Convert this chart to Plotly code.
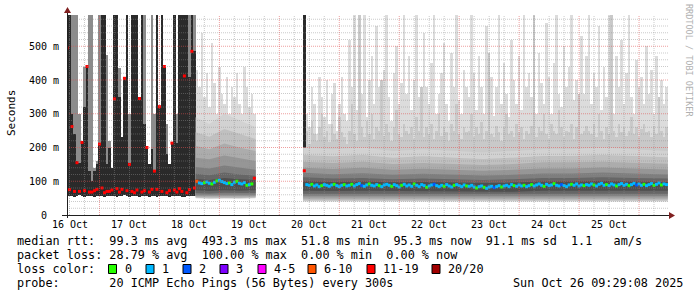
import pandas as pd
import plotly.graph_objects as go

# ------------------------------------------------------------------ data
# Period A: heavy packet loss, hourly bins starting 15 Oct 23:00
a_start = "2025-10-15 23:00"
a_lo = [56, 55, 57, 54, 56, 58, 55, 54, 57, 56, 55, 53, 56, 57, 55, 54, 56, 55, 57, 56,
        54, 55, 56, 58, 55, 54, 56, 57, 55, 53, 56, 55, 57, 54, 56, 55, 54, 56, 57, 55,
        56, 54, 55, 57, 56, 55, 54, 52, 56, 55, 57, 56]
a_dark = [600, 600, 300, 240, 160, 155, 220, 320, 440, 130, 100, 130, 150, 210, 600, 600,
          150, 200, 140, 600, 600, 350, 230, 410, 600, 150, 600, 600, 600, 350, 600, 270,
          200, 150, 195, 130, 600, 320, 600, 440, 180, 150, 210, 600, 213, 600, 600, 600,
          600, 410, 600, 485]
a_grey = [600, 600, 600, 600, 600, 300, 220, 440, 440, 600, 600, 140, 160, 600, 600, 600,
          474, 220, 140, 600, 600, 435, 230, 410, 600, 300, 600, 600, 600, 350, 600, 600,
          200, 150, 600, 300, 600, 320, 600, 440, 270, 150, 210, 600, 300, 600, 600, 600,
          600, 600, 600, 600]
a_med = [495, 75, 262, 70, 155, 70, 215, 72, 440, 68, 68, 72, 76, 210, 80, 66, 70, 70, 74, 344,
         78, 68, 76, 405, 72, 150, 70, 66, 74, 345, 68, 72, 200, 68, 76, 130, 76, 321, 70, 440,
         66, 72, 213, 74, 68, 78, 70, 412, 66, 75, 485, 80]
a_loss = [16, 14, 15, 17, 13, 15, 16, 14, 18, 15, 14, 16, 15, 13, 17, 15, 16, 14, 15, 17,
          14, 16, 15, 13, 16, 15, 14, 17, 15, 16, 14, 15, 13, 16, 15, 17, 14, 15, 16, 13,
          15, 14, 16, 17, 15, 14, 16, 15, 13, 15, 14, 12]

# Period B: normal, hourly bins from 18 Oct 03:00
b_start = "2025-10-18 03:00"
b_med = [100, 95, 93, 96, 98, 94, 92, 97, 101, 103, 99, 96, 93, 95, 90, 97, 100, 94, 92, 96,
         88, 90, 92, 109]
b_loss = [7, 1, 1, 0, 1, 1, 0, 1, 0, 1, 1, 1, 1, 0, 1, 1, 0, 1, 1, 1, 0, 1, 0, 12]
b_hi = [430, 380, 540, 350, 420, 320, 510, 390, 300, 440, 360, 330, 410, 300, 380, 350,
        420, 330, 300, 440, 380, 320, 360, 300]
b_band_t = ["2025-10-18 02:30", "2025-10-18 08:00", "2025-10-18 14:00",
            "2025-10-18 20:00", "2025-10-19 02:30"]
b_bands = [  # (lower, upper) smoke envelopes, outer to inner
    ([50, 48, 49, 48, 50], [290, 270, 300, 280, 260]),
    ([51, 50, 51, 50, 51], [245, 232, 255, 240, 225]),
    ([53, 52, 53, 52, 53], [205, 195, 212, 200, 190]),
    ([56, 55, 57, 56, 56], [170, 165, 176, 168, 160]),
    ([60, 59, 61, 60, 60], [142, 138, 147, 140, 134]),
    ([65, 64, 66, 65, 65], [122, 118, 126, 120, 116]),
    ([73, 71, 73, 72, 73], [107, 104, 110, 106, 104]),
]

# Period C: normal, hourly bins from 19 Oct 22:00
c_start = "2025-10-19 22:00"
c_med = [131,
         90, 88, 91, 86, 89, 84, 87, 90, 88, 85, 89, 91, 87, 84, 88, 90, 86,
         88, 91, 86, 90, 93, 87, 85, 89, 92, 88, 86, 90, 87, 84, 89, 91, 88, 85, 90, 87, 83, 88, 91, 86,
         89, 85, 92, 88, 84, 90, 87, 82, 86, 89, 91, 87, 84, 88, 85, 90, 86, 83, 88, 90, 87, 84, 89, 86,
         85, 88, 83, 80, 84, 86, 82, 79, 83, 85, 81, 84, 87, 83, 86, 88, 84, 90, 87, 85, 89, 86, 88, 84,
         87, 90, 86, 89, 92, 88, 85, 91, 87, 89, 93, 88, 86, 90, 87, 84, 89, 91, 88, 92, 86, 89, 87, 90,
         88, 92, 89, 86, 91, 94, 88, 90, 87, 92, 89, 86, 90, 93, 88, 91, 87, 90, 94, 89, 92, 88, 91, 87,
         90, 93, 88, 91, 95, 89, 92, 90]
c_loss = [12,
          1, 1, 0, 1, 1, 1, 0, 1, 1, 1, 1, 0, 1, 1, 1, 0, 1,
          1, 0, 1, 1, 1, 2, 1, 1, 0, 1, 1, 1, 0, 1, 1, 1, 1, 0, 1, 1, 1, 0, 1, 1,
          1, 1, 0, 1, 1, 1, 1, 0, 1, 1, 2, 1, 1, 1, 0, 1, 1, 1, 0, 1, 1, 1, 1, 0,
          1, 1, 1, 0, 1, 1, 0, 1, 1, 1, 2, 1, 1, 0, 1, 1, 1, 1, 0, 1, 1, 1, 0, 1,
          1, 0, 1, 1, 1, 1, 0, 1, 1, 1, 0, 1, 1, 2, 1, 1, 1, 0, 1, 1, 1, 1, 0, 1,
          1, 1, 0, 1, 1, 1, 1, 0, 1, 1, 1, 0, 1, 1, 1, 1, 0, 1, 1, 2, 1, 1, 0, 1,
          1, 1, 0, 1, 1, 0, 1, 1]
c_hi = [420, 300, 260, 380, 330, 240, 410, 350, 290, 400, 270, 360, 390, 250, 330, 410, 300, 280,
        520, 380, 600, 310, 450, 360, 600, 290, 400, 470, 330, 560, 380, 300, 430, 600, 350, 280, 420, 500, 330, 390, 600, 360,
        470, 310, 400, 600, 350, 290, 540, 380, 330, 450, 600, 300, 360, 420, 510, 330, 280, 480, 380, 600, 340, 300, 430, 380,
        350, 600, 420, 310, 470, 380, 300, 560, 340, 410, 292, 380, 600, 330, 450, 360, 290, 520, 400, 330, 470, 310, 600, 380,
        420, 350, 600, 300, 480, 390, 330, 570, 410, 300, 450, 600, 360, 320, 500, 380, 440, 600, 340, 400, 310, 530, 360, 470,
        600, 330, 420, 380, 560, 310, 440, 350, 600, 400, 300, 470, 380, 520, 330, 420, 600, 350, 300, 460, 380, 410, 330, 500,
        360, 430, 300, 470, 350, 400, 330, 380]
c_mid = [230, 250, 210, 280, 240, 220, 260, 300, 230, 250, 215, 270, 240, 225, 290, 245, 230, 210,
         250, 330, 240, 220, 600, 260, 230, 280, 240, 300, 225, 260, 250, 400, 235, 270, 245, 220, 260, 310, 240, 230, 270, 250,
         240, 260, 225, 290, 250, 380, 230, 260, 240, 270, 225, 250, 300, 235, 260, 245, 220, 270, 250, 330, 240, 225, 260, 245,
         250, 300, 230, 260, 240, 275, 225, 250, 480, 240, 230, 265, 245, 220, 260, 300, 240, 250, 230, 270, 245, 260, 225, 250,
         240, 265, 600, 230, 260, 250, 300, 240, 225, 270, 250, 240, 310, 260, 230, 250, 245, 270, 225, 260, 360, 240, 250, 265,
         250, 240, 270, 230, 300, 250, 225, 260, 240, 600, 250, 230, 270, 245, 260, 235, 250, 290, 240, 260, 230, 255, 270, 245,
         250, 230, 265, 240, 350, 250, 230, 260]
c_band_t = ["2025-10-19 21:30", "2025-10-20 09:30", "2025-10-20 21:30", "2025-10-21 09:30",
            "2025-10-21 21:30", "2025-10-22 09:30", "2025-10-22 21:30", "2025-10-23 09:30",
            "2025-10-23 21:30", "2025-10-24 09:30", "2025-10-24 21:30", "2025-10-25 09:30",
            "2025-10-25 21:30", "2025-10-25 23:30"]
c_bands = [
    ([40, 39, 40, 38, 39, 40, 39, 38, 40, 39, 40, 39, 40, 40],
     [200, 195, 200, 190, 195, 190, 185, 190, 195, 195, 200, 195, 190, 190]),
    ([43, 42, 43, 42, 43, 43, 42, 41, 43, 42, 43, 43, 43, 43],
     [178, 174, 178, 170, 174, 170, 166, 170, 175, 175, 178, 175, 171, 171]),
    ([47, 46, 47, 46, 47, 47, 46, 45, 47, 46, 47, 47, 47, 47],
     [158, 154, 158, 151, 154, 151, 148, 151, 156, 156, 158, 155, 152, 152]),
    ([52, 51, 52, 51, 52, 52, 51, 50, 52, 51, 52, 52, 52, 52],
     [140, 136, 140, 134, 137, 134, 131, 134, 138, 138, 141, 138, 135, 135]),
    ([57, 56, 57, 56, 57, 57, 56, 55, 57, 56, 57, 57, 57, 57],
     [125, 121, 124, 119, 122, 119, 117, 119, 123, 123, 126, 123, 120, 120]),
    ([63, 62, 63, 62, 63, 63, 62, 61, 63, 62, 63, 63, 63, 63],
     [112, 108, 110, 106, 108, 106, 104, 106, 110, 110, 112, 110, 108, 108]),
    ([72, 71, 72, 71, 72, 71, 70, 69, 72, 71, 72, 72, 72, 72],
     [100, 98, 99, 97, 98, 96, 95, 96, 99, 99, 101, 99, 98, 98]),
]
# first sample after the outage: heavy-loss smoke line
c_loss_bar_t = ["2025-10-19 22:00"]
c_loss_bar_lo = [131]
c_loss_bar_hi = [600]

day_ticks = pd.date_range("2025-10-16", "2025-10-25", freq="D")
day_labels = ["16 Oct", "17 Oct", "18 Oct", "19 Oct", "20 Oct",
              "21 Oct", "22 Oct", "23 Oct", "24 Oct", "25 Oct"]
y_ticks = [0, 100, 200, 300, 400, 500]
y_labels = ["0", "100 m", "200 m", "300 m", "400 m", "500 m"]

legend_rtt = "median rtt:  99.3 ms avg  493.3 ms max  51.8 ms min  95.3 ms now  91.1 ms sd  1.1   am/s"
legend_loss = "packet loss: 28.79 % avg  100.00 % max  0.00 % min  0.00 % now"
loss_names = ["0", "1", "2", "3", "4-5", "6-10", "11-19", "20/20"]
loss_cols = ["#26ff00", "#00b8ff", "#0059ff", "#7e00ff", "#ff00ff", "#ff5500", "#ff0000", "#a10000"]
loss_upper = [0, 1, 2, 3, 5, 10, 19, 20]
probe_text = "probe:       20 ICMP Echo Pings (56 Bytes) every 300s"
date_text = "Sun Oct 26 09:29:08 2025"

# ------------------------------------------------------------------ helpers
X_START, X_END = "2025-10-15 23:00", "2025-10-26 00:00"
Y_MAX = 592.6
L, T, PW, PH = 67, 15, 602, 200
MONO = "DejaVu Sans Mono"
HOUR = 3600 * 1000
SPIKE_BASE = 100  # spikes start inside the dense smoke (hidden there)


def px(x):
    return (x - L) / PW


def py(y):
    return (T + PH - y) / PH


def loss_color(n):
    for up, c in zip(loss_upper, loss_cols):
        if n <= up:
            return c
    return loss_cols[-1]


def nb(s):
    return s.replace(" ", "\u00a0")


a_t = pd.date_range(a_start, periods=len(a_med), freq="h")
b_t = pd.date_range(b_start, periods=len(b_med), freq="h")
c_t = pd.date_range(c_start, periods=len(c_med), freq="h")

fig = go.Figure()


def bars(t, lo, hi, color):
    top = [h - l for h, l in zip(hi, lo)]
    fig.add_trace(go.Bar(x=t, y=top, base=lo, width=HOUR, marker=dict(color=color, line=dict(width=0)),
                         hoverinfo="skip"))


def band(t, lo, hi, color):
    ts = list(pd.to_datetime(t))
    fig.add_trace(go.Scatter(x=ts + ts[::-1], y=list(hi) + list(lo)[::-1], fill="toself",
                             fillcolor=color, mode="lines", line=dict(width=0), hoverinfo="skip"))


# smoke spikes (normal periods)
bars(b_t, [SPIKE_BASE] * len(b_hi), b_hi, "#dcdcdc")
bars(c_t, [SPIKE_BASE] * len(c_hi), c_hi, "#dcdcdc")
bars(c_t, [SPIKE_BASE] * len(c_mid), c_mid, "#c9c9c9")

band_cols = ["#d2d2d2", "#c0c0c0", "#acacac", "#969696", "#7e7e7e", "#666666", "#4e4e4e"]
for (lo, hi), col in zip(b_bands, band_cols):
    band(b_band_t, lo, hi, col)
for (lo, hi), col in zip(c_bands, band_cols):
    band(c_band_t, lo, hi, col)

# heavy loss period
bars(a_t, a_lo, a_grey, "#8c8c8c")
bars(a_t, a_lo, a_dark, "#2a2a2a")
bars(pd.to_datetime(c_loss_bar_t), c_loss_bar_lo, c_loss_bar_hi, "#2a2a2a")

# medians coloured by loss
for t, m, ls in ((a_t, a_med, a_loss), (b_t, b_med, b_loss), (c_t, c_med, c_loss)):
    fig.add_trace(go.Scatter(x=t, y=m, mode="markers",
                             marker=dict(symbol="square", size=3, color=[loss_color(n) for n in ls],
                                         line=dict(width=0)),
                             hoverinfo="skip"))

shapes = []
MINOR = "rgba(140,140,140,0.45)"
MAJOR = "rgba(224,80,80,0.55)"
# grid (drawn over the smoke like rrdtool)
for v in range(20, 600, 20):
    shapes.append(dict(type="line", xref="x", yref="y", x0=X_START, x1=X_END, y0=v, y1=v,
                       line=dict(color=MAJOR if v % 100 == 0 else MINOR, width=1, dash="1px,1px"),
                       layer="above"))
for t in pd.date_range("2025-10-16 00:00", "2025-10-25 18:00", freq="6h"):
    shapes.append(dict(type="line", xref="x", yref="y", x0=t, x1=t, y0=0, y1=Y_MAX,
                       line=dict(color=MAJOR if t.hour == 12 else MINOR, width=1, dash="1px,1px"),
                       layer="above"))
# axes with arrows
shapes.append(dict(type="line", xref="paper", yref="paper", x0=px(62), x1=px(670), y0=py(215.5), y1=py(215.5),
                   line=dict(color="#202020", width=1), layer="above"))
shapes.append(dict(type="line", xref="paper", yref="paper", x0=px(67.5), x1=px(67.5), y0=py(218), y1=py(12),
                   line=dict(color="#202020", width=1), layer="above"))
shapes.append(dict(type="path", xref="paper", yref="paper",
                   path=f"M {px(669)} {py(212)} L {px(675)} {py(215.5)} L {px(669)} {py(219)} Z",
                   fillcolor="#802020", line=dict(width=0), layer="above"))
shapes.append(dict(type="path", xref="paper", yref="paper",
                   path=f"M {px(64)} {py(13)} L {px(67.5)} {py(7)} L {px(71)} {py(13)} Z",
                   fillcolor="#802020", line=dict(width=0), layer="above"))

annotations = []
for t, lab in zip(day_ticks, day_labels):
    annotations.append(dict(x=t, xref="x", y=py(224), yref="paper", text=nb(lab), showarrow=False,
                            xanchor="center", yanchor="middle", font=dict(family=MONO, size=10, color="black")))
for v, lab in zip(y_ticks, y_labels):
    right = 49 if v == 0 else 61
    annotations.append(dict(x=px(right), xref="paper", y=v, yref="y", text=nb(lab), showarrow=False,
                            xanchor="right", yanchor="middle", font=dict(family=MONO, size=10, color="black")))
annotations.append(dict(x=px(11), xref="paper", y=py(113), yref="paper", text="Seconds", textangle=-90,
                        showarrow=False, xanchor="center", yanchor="middle",
                        font=dict(family=MONO, size=11, color="black")))
annotations.append(dict(x=px(689), xref="paper", y=py(60), yref="paper", text=nb("RRDTOOL / TOBI OETIKER"),
                        textangle=90, showarrow=False, xanchor="center", yanchor="middle",
                        font=dict(family=MONO, size=8.5, color="#b0b0b0")))

LEG = dict(family=MONO, size=11.8, color="black")
rows_y = [241, 255, 269, 283]
for row, txt in ((0, legend_rtt), (1, legend_loss), (2, "loss color:"), (3, probe_text)):
    annotations.append(dict(x=px(15), xref="paper", y=py(rows_y[row]), yref="paper", text=nb(txt),
                            showarrow=False, xanchor="left", yanchor="middle", font=LEG))
box_x = [108.5, 146, 183, 220, 258, 308, 367, 432]
for bx, name, col in zip(box_x, loss_names, loss_cols):
    shapes.append(dict(type="rect", xref="paper", yref="paper", x0=px(bx), x1=px(bx + 8),
                       y0=py(rows_y[2] - 4.5), y1=py(rows_y[2] + 4.5),
                       fillcolor=col, line=dict(color="black", width=1)))
    annotations.append(dict(x=px(bx + 14), xref="paper", y=py(rows_y[2]), yref="paper", text=nb(name),
                            showarrow=False, xanchor="left", yanchor="middle", font=LEG))
annotations.append(dict(x=px(685), xref="paper", y=py(rows_y[3]), yref="paper", text=nb(date_text),
                        showarrow=False, xanchor="right", yanchor="middle", font=LEG))

fig.update_layout(
    width=697, height=297, margin=dict(l=L, r=697 - L - PW, t=T, b=297 - T - PH, pad=0),
    paper_bgcolor="white", plot_bgcolor="white", showlegend=False,
    barmode="overlay", bargap=0,
    xaxis=dict(type="date", range=[X_START, X_END], showgrid=False, showticklabels=False,
               zeroline=False, showline=False, ticks="", fixedrange=True),
    yaxis=dict(range=[0, Y_MAX], showgrid=False, showticklabels=False, zeroline=False,
               showline=False, ticks="", fixedrange=True),
    shapes=shapes, annotations=annotations,
)
fig.write_html("out.html")
